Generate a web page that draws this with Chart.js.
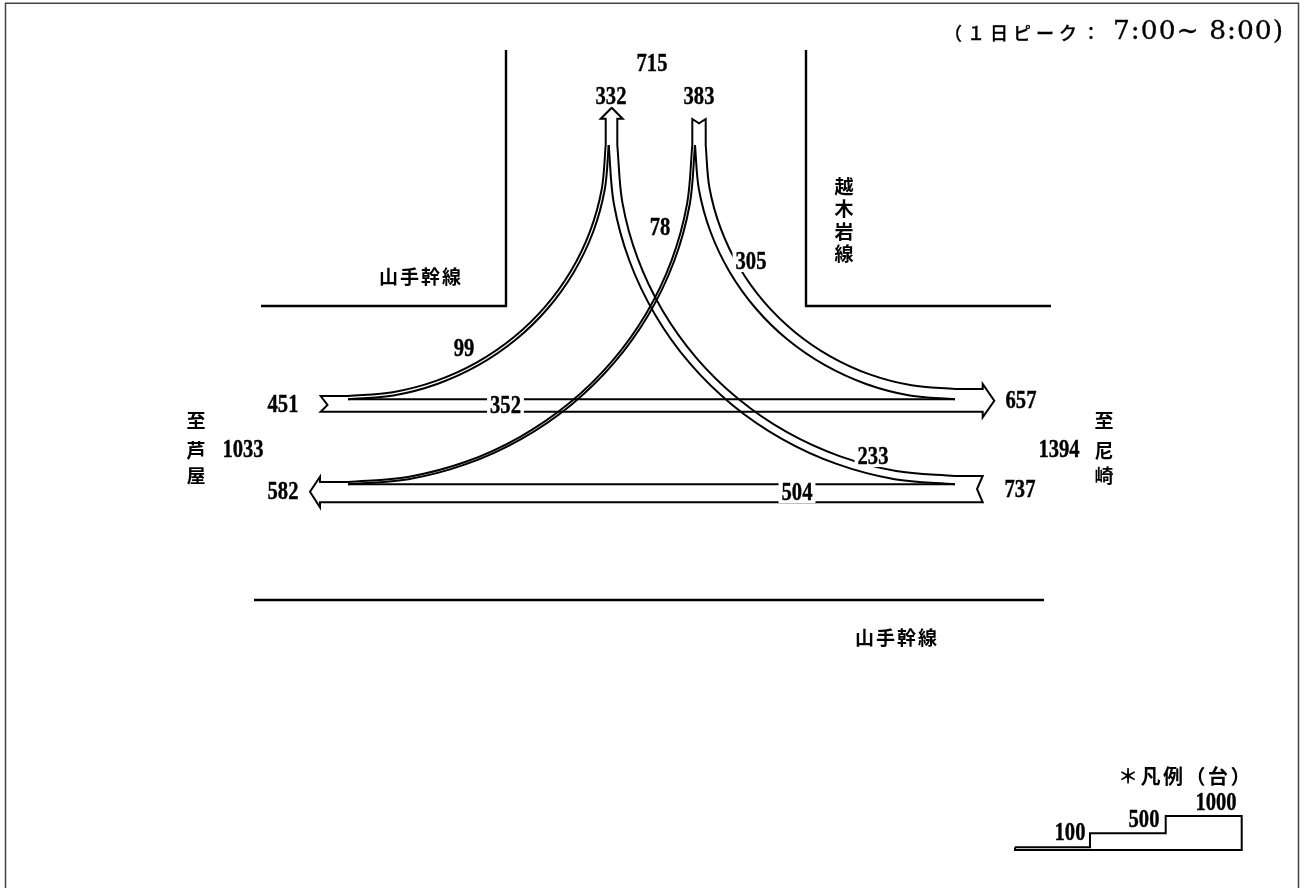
<!DOCTYPE html>
<html>
<head>
<meta charset="utf-8">
<style>
html, body { margin: 0; padding: 0; background: #fff; overflow: hidden; }
#box { width: 1305px; height: 888px; }
</style>
<script src="https://cdn.jsdelivr.net/npm/chart.js@4"></script>
</head>
<body>
<div id="box"><canvas id="flowChart"></canvas></div>
<script>
// traffic volumes (vehicles) and where they are printed
const flowLabels = ['715', '332', '383', '78', '305', '99', '451', '352', '657', '1033', '233', '1394', '582', '504', '737'];
const flowLabelX = [652, 611, 699, 660, 751, 464, 283, 505.5, 1021, 243, 873, 1059, 283, 797, 1020];
const flowLabelY = [64, 97, 97, 228, 262, 349, 405, 406, 401, 450, 457, 450, 492, 493, 490];

const legendLabels = ['100', '500', '1000'];
const legendLabelX = [1070, 1144, 1216];
const legendLabelY = [833, 819.5, 802.5];

// street names and destinations
const placeLabels = ['山手幹線', '山手幹線', '越', '木', '岩', '線', '至', '芦', '屋', '至', '尼', '崎'];
const placeLabelX = [421, 897, 845, 845, 845, 845, 197, 197, 197, 1105, 1105, 1105];
const placeLabelY = [277, 638, 187, 209, 232, 254, 421, 451, 476, 421, 451, 476];

const peakLabel = '（１日ピーク：';
const peakTime = '7:00~ 8:00)';
const legendTitle = '＊凡例（台）';

// curved flows, two edges each
const curve99Upper = [[605.7,145],[601.8,188.7],[590.2,230.8],[571.2,270.5],[545.4,306.4],[513.7,337.3],[476.9,362.4],[436.1,380.9],[392.8,392.2],[348,396]];
const curve99Lower = [[608.7,145],[604.8,189.2],[593.1,232],[573.8,272.2],[547.7,308.5],[515.6,339.8],[478.4,365.2],[437.2,384],[393.4,395.5],[348,399.3]];
const curve78Upper = [[692.3,145],[687.1,203.6],[671.6,260.3],[646.2,313.5],[611.7,361.7],[569.4,403.1],[520.2,436.8],[465.8,461.8],[407.9,476.9],[348,482]];
const curve78Lower = [[695,145],[689.8,204],[674.2,261],[648.5,314.7],[613.8,363.2],[571.1,404.9],[521.5,438.8],[466.7,463.9],[408.4,479.2],[348,484.3]];
const curve305Upper = [[705.7,145],[709.4,187.5],[720.7,228.4],[739.1,267],[764,301.9],[794.7,331.9],[830.3,356.3],[869.7,374.4],[911.6,385.3],[955,389]];
const curve305Lower = [[695,145],[698.9,189.2],[710.6,232],[729.8,272.2],[755.8,308.5],[787.8,339.8],[825,365.2],[866.1,384],[909.8,395.5],[955,399.3]];
const curve233Upper = [[617.3,145],[622.4,202.6],[637.6,258.2],[662.5,310.5],[696.3,357.8],[737.9,398.5],[786.1,431.7],[839.5,456.1],[896.2,471],[955,476]];
const curve233Lower = [[608.7,145],[613.9,204],[629.5,261],[655.1,314.7],[689.7,363.2],[732.3,404.9],[781.8,438.8],[836.6,463.9],[894.7,479.2],[955,484.3]];

// straight outlines
const arrowNorth = [[605.7,145],[605.7,118.7],[600.7,118.7],[611.7,107.7],[622.7,118.7],[617.3,118.7],[617.3,145]];
const tailNorth = [[692.3,145],[692.3,119],[699,123.3],[705.7,119],[705.7,145]];
const flowEast = [[955,389],[982.7,389],[982.7,384],[994.3,400.7],[982.7,417.3],[982.7,411.7],[320.7,411.7],[327.5,405],[320.7,396],[348,396]];
const flowEastInner = [[348,399.3],[955,399.3]];
const flowWest = [[348,482],[320,482],[320,476.7],[310,491.7],[320,507.3],[320,502.3],[982.7,502.3],[977,489],[982.7,476],[955,476]];
const flowWestInner = [[348,484.3],[955,484.3]];

// streets
const streetLeft = [[506,50],[506,306],[261,306]];
const streetRight = [[806,50],[806,306],[1051,306]];
const streetBottom = [[254,600],[1044,600]];

// scale legend
const legendSteps = [[1015,847.3],[1090,847.3],[1090,833.3],[1165.7,833.3],[1165.7,816],[1241.7,816],[1241.7,850],[1015,850],[1015,847.3]];

// frame of the page
const frameLine = [[5.5,888],[5.5,3.3],[1298.5,3.3],[1298.5,888]];

function toPoints(list) {
    return list.map(p => ({x: p[0], y: p[1]}));
}

function lineSet(list, width, color, tension) {
    return {
        data: toPoints(list),
        showLine: true,
        fill: false,
        borderColor: color || '#000',
        borderWidth: width,
        pointRadius: 0,
        tension: tension || 0,
        borderJoinStyle: 'miter',
        borderCapStyle: 'butt'
    };
}

const curveWidth = 2;
const straightWidth = 2;
const numberSqueeze = 0.84;

// bold serif squeezed, the reference digits are narrow and tall
function drawNumber(c, t, x, y) {
    c.save();
    c.translate(x, y);
    c.scale(numberSqueeze, 1);
    c.lineWidth = 0.4;
    c.fillText(t, 0, 0);
    c.strokeText(t, 0, 0);
    c.restore();
}

const textPlugin = {
    id: 'textPlugin',
    afterDatasetsDraw(chart) {
        const c = chart.ctx;
        const sx = chart.scales.x;
        const sy = chart.scales.y;
        c.save();
        c.textBaseline = 'middle';
        c.textAlign = 'center';
        c.fillStyle = '#000';
        c.strokeStyle = '#000';

        c.font = 'bold 24.5px "Liberation Serif", serif';
        flowLabels.forEach((t, i) => {
            const x = sx.getPixelForValue(flowLabelX[i]);
            const y = sy.getPixelForValue(flowLabelY[i]);
            const w = c.measureText(t).width * numberSqueeze + 6;
            c.fillStyle = '#fff';
            c.fillRect(x - w / 2, y - 10, w, 20);
            c.fillStyle = '#000';
            drawNumber(c, t, x, y + 1);
        });
        legendLabels.forEach((t, i) => {
            drawNumber(c, t, sx.getPixelForValue(legendLabelX[i]), sy.getPixelForValue(legendLabelY[i]) + 1);
        });

        c.font = 'bold 19px "Noto Sans CJK JP"';
        c.letterSpacing = '2px';
        placeLabels.forEach((t, i) => {
            c.fillText(t, sx.getPixelForValue(placeLabelX[i]), sy.getPixelForValue(placeLabelY[i]));
        });

        c.textAlign = 'left';
        c.font = '500 18px "Noto Sans CJK JP"';
        c.letterSpacing = '5px';
        c.lineWidth = 0.3;
        c.fillText(peakLabel, sx.getPixelForValue(944), sy.getPixelForValue(33));
        c.strokeText(peakLabel, sx.getPixelForValue(944), sy.getPixelForValue(33));
        c.font = 'bold 20px "Noto Sans CJK JP"';
        c.letterSpacing = '2.5px';
        c.fillText(legendTitle, sx.getPixelForValue(1118), sy.getPixelForValue(776));
        c.letterSpacing = '1px';
        c.font = '26.5px "DejaVu Serif"';
        c.fillText(peakTime, sx.getPixelForValue(1113), sy.getPixelForValue(32));
        c.strokeText(peakTime, sx.getPixelForValue(1113), sy.getPixelForValue(32));
        c.restore();
    }
};

new Chart(document.getElementById('flowChart').getContext('2d'), {
    type: 'scatter',
    data: {
        datasets: [
            lineSet(frameLine, 1.5, '#444'),
            lineSet(streetLeft, 2.4),
            lineSet(streetRight, 2.4),
            lineSet(streetBottom, 2.4),
            lineSet(arrowNorth, straightWidth),
            lineSet(tailNorth, straightWidth),
            lineSet(flowEast, straightWidth),
            lineSet(flowEastInner, straightWidth),
            lineSet(flowWest, straightWidth),
            lineSet(flowWestInner, straightWidth),
            lineSet(curve99Upper, curveWidth, '#000', 0.33),
            lineSet(curve99Lower, curveWidth, '#000', 0.33),
            lineSet(curve78Upper, curveWidth, '#000', 0.33),
            lineSet(curve78Lower, curveWidth, '#000', 0.33),
            lineSet(curve305Upper, curveWidth, '#000', 0.33),
            lineSet(curve305Lower, curveWidth, '#000', 0.33),
            lineSet(curve233Upper, curveWidth, '#000', 0.33),
            lineSet(curve233Lower, curveWidth, '#000', 0.33),
            lineSet(legendSteps, straightWidth)
        ]
    },
    options: {
        responsive: true,
        maintainAspectRatio: false,
        animation: false,
        layout: { padding: 0 },
        plugins: { legend: { display: false }, tooltip: { enabled: false } },
        scales: {
            x: { type: 'linear', min: 0, max: 1305, display: false },
            y: { type: 'linear', min: 0, max: 888, reverse: true, display: false }
        }
    },
    plugins: [textPlugin]
});
</script>
</body>
</html>
